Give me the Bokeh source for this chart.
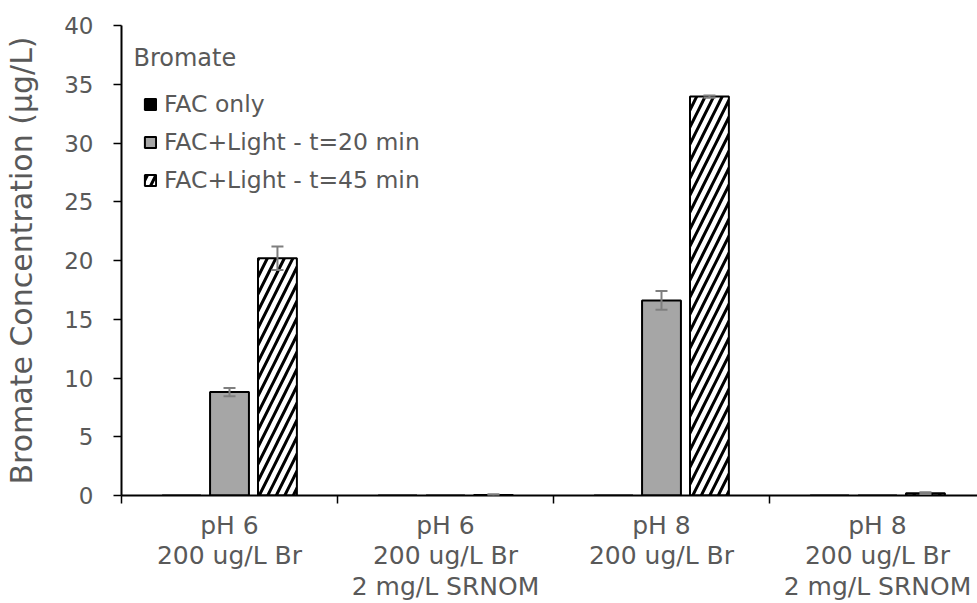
import numpy as np
from bokeh.plotting import figure
from bokeh.models import (Range1d, FixedTicker, ColumnDataSource, Whisker, TeeHead,
                          Legend, LegendItem, Label)
from bokeh.embed import file_html
from bokeh.resources import INLINE

# ---------------- data ----------------
categories = ["pH 6\n200 ug/L Br",
              "pH 6\n200 ug/L Br\n2 mg/L SRNOM",
              "pH 8\n200 ug/L Br",
              "pH 8\n200 ug/L Br\n2 mg/L SRNOM"]
series_names = ["FAC only", "FAC+Light - t=20 min", "FAC+Light - t=45 min"]
fac_only = [0.0, 0.0, 0.0, 0.0]
light_20 = [8.8, 0.0, 16.6, 0.0]
light_20_err = [0.35, 0.0, 0.8, 0.0]
light_45 = [20.2, 0.05, 33.95, 0.2]
light_45_err = [1.0, 0.05, 0.1, 0.08]
y_ticks = [0, 5, 10, 15, 20, 25, 30, 35, 40]
legend_title = "Bromate"
y_title = "Bromate Concentration (\u00b5g/L)"

FONT = "DejaVu Sans"
TXT = "#595959"

n = len(categories)
centers = np.arange(n) + 0.5
bar_w = 0.18
offs = [-0.222, 0.0, 0.222]

p = figure(width=977, height=603, output_backend="svg", toolbar_location=None,
           x_range=Range1d(0, 3.963), y_range=Range1d(0, 40),
           min_border_left=121, min_border_right=0, min_border_top=25, min_border_bottom=108)
p.outline_line_color = None
p.xgrid.grid_line_color = None
p.ygrid.grid_line_color = None

r_fac = p.vbar(x=list(centers + offs[0]), top=fac_only, width=bar_w, bottom=0,
               fill_color="black", line_color="black", line_width=2)
r_20 = p.vbar(x=list(centers + offs[1]), top=light_20, width=bar_w, bottom=0,
              fill_color="#a6a6a6", line_color="black", line_width=2)
r_45 = p.vbar(x=list(centers + offs[2]), top=light_45, width=bar_w, bottom=0,
              fill_color="white", line_color="black", line_width=2,
              hatch_pattern="/", hatch_color="black", hatch_scale=17, hatch_weight=3)

def add_err(xs, vals, errs):
    sx = [x for x, e in zip(xs, errs) if e > 0]
    up = [v + e for v, e in zip(vals, errs) if e > 0]
    lo = [v - e for v, e in zip(vals, errs) if e > 0]
    src = ColumnDataSource(dict(x=sx, upper=up, lower=lo))
    w = Whisker(source=src, base="x", upper="upper", lower="lower", dimension="height",
                line_color="#7f7f7f", line_width=2, level="annotation",
                upper_head=TeeHead(size=12, line_color="#7f7f7f", line_width=2),
                lower_head=TeeHead(size=12, line_color="#7f7f7f", line_width=2))
    p.add_layout(w)

add_err(list(centers + offs[1]), light_20, light_20_err)
add_err(list(centers + offs[2]), light_45, light_45_err)

# y axis
ya = p.yaxis[0]
ya.ticker = FixedTicker(ticks=y_ticks)
ya.axis_line_color = "black"
ya.axis_line_width = 2
ya.major_tick_line_color = "black"
ya.major_tick_line_width = 1.5
ya.major_tick_out = 8
ya.major_tick_in = 0
ya.minor_tick_line_color = None
ya.major_label_text_font = FONT
ya.major_label_text_font_size = "23px"
ya.major_label_text_color = TXT
ya.major_label_standoff = 20
ya.axis_label = y_title
ya.axis_label_text_font = FONT
ya.axis_label_text_font_size = "30px"
ya.axis_label_text_font_style = "normal"
ya.axis_label_text_color = TXT
ya.axis_label_standoff = 22

# x axis
xa = p.xaxis[0]
xa.ticker = FixedTicker(ticks=list(centers), minor_ticks=list(range(n + 1)))
xa.major_label_overrides = {float(c): lab for c, lab in zip(centers, categories)}
xa.axis_line_color = "black"
xa.axis_line_width = 2
xa.major_tick_line_color = None
xa.major_tick_out = 0
xa.major_tick_in = 0
xa.minor_tick_line_color = "black"
xa.minor_tick_line_width = 1.5
xa.minor_tick_out = 8
xa.minor_tick_in = 0
xa.major_label_text_font = FONT
xa.major_label_text_font_size = "25px"
xa.major_label_text_color = TXT
xa.major_label_text_line_height = 1.06
xa.major_label_standoff = 7

legend = Legend(items=[LegendItem(label=series_names[0], renderers=[r_fac]),
                       LegendItem(label=series_names[1], renderers=[r_20]),
                       LegendItem(label=series_names[2], renderers=[r_45])],
                location=(22, 301), padding=0, margin=0, spacing=10,
                glyph_width=14, glyph_height=14, label_height=14, label_standoff=7,
                label_text_font=FONT, label_text_font_size="23.5px", label_text_color=TXT,
                background_fill_alpha=0, border_line_color=None)
p.add_layout(legend)

p.add_layout(Label(x=12, y=438, x_units="screen", y_units="screen", text=legend_title,
                   text_font=FONT, text_font_size="24px", text_color=TXT,
                   text_baseline="middle", text_align="left"))

open("out.html", "w").write(file_html(p, INLINE))
